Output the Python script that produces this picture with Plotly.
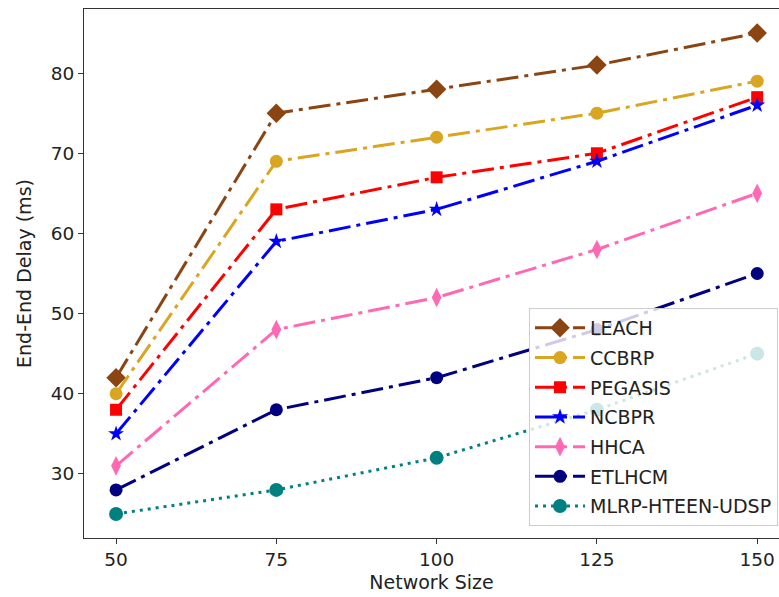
import plotly.graph_objects as go

network_size = [50, 75, 100, 125, 150]
leach = [42, 75, 78, 81, 85]
ccbrp = [40, 69, 72, 75, 79]
pegasis = [38, 63, 67, 70, 77]
ncbpr = [35, 59, 63, 69, 76]
hhca = [31, 48, 52, 58, 65]
etlhcm = [28, 38, 42, 48, 55]
mlrp = [25, 28, 32, 38, 45]

DD = "22px,6px,4px,6px"
series = [
    ("LEACH", leach, "#8B4513", "diamond", 15, DD),
    ("CCBRP", ccbrp, "#DAA520", "circle", 13, DD),
    ("PEGASIS", pegasis, "#FF0000", "square", 12, DD),
    ("NCBPR", ncbpr, "#0000FF", "star", 12, DD),
    ("HHCA", hhca, "#FF69B4", "diamond-tall", 14, DD),
    ("ETLHCM", etlhcm, "#000080", "circle", 13, DD),
    ("MLRP-HTEEN-UDSP", mlrp, "#008080", "circle", 14, "3px,5px"),
]

FONT = "DejaVu Sans"
fig = go.Figure()
for i, (name, vals, col, sym, sz, dash) in enumerate(series):
    fig.add_trace(go.Scatter(
        x=network_size, y=vals, name=name, mode="lines+markers",
        legendgroup=f"g{i}",
        line=dict(color=col, width=3, dash=dash),
        marker=dict(symbol=sym, size=sz, color=col, line=dict(width=0)),
    ))

axis_common = dict(
    showline=True, linecolor="#333", linewidth=1.2, mirror=True,
    ticks="outside", ticklen=5, tickwidth=1.2, tickcolor="#333",
    showgrid=False, zeroline=False,
    tickfont=dict(family=FONT, size=18.5, color="#222"),
)

fig.update_layout(
    width=779, height=597,
    margin=dict(l=84, r=0, t=9, b=59),
    plot_bgcolor="white", paper_bgcolor="white",
    font=dict(family=FONT, size=19, color="#222"),
    xaxis=dict(range=[45, 153.4], tickvals=network_size,
               title=dict(text="Network Size", font=dict(family=FONT, size=19, color="#222"), standoff=6),
               **axis_common),
    yaxis=dict(range=[22, 88], tickvals=[30, 40, 50, 60, 70, 80],
               title=dict(text="End-End Delay (ms)", font=dict(family=FONT, size=19, color="#222"), standoff=14),
               **axis_common),
    legend=dict(x=0.9986, y=0.0227, xanchor="right", yanchor="bottom",
                bgcolor="rgba(255,255,255,0.8)", bordercolor="#cccccc", borderwidth=1,
                font=dict(family=FONT, size=19, color="#222"),
                tracegroupgap=2, itemwidth=50),
    showlegend=True,
)

fig.write_html("out.html")
